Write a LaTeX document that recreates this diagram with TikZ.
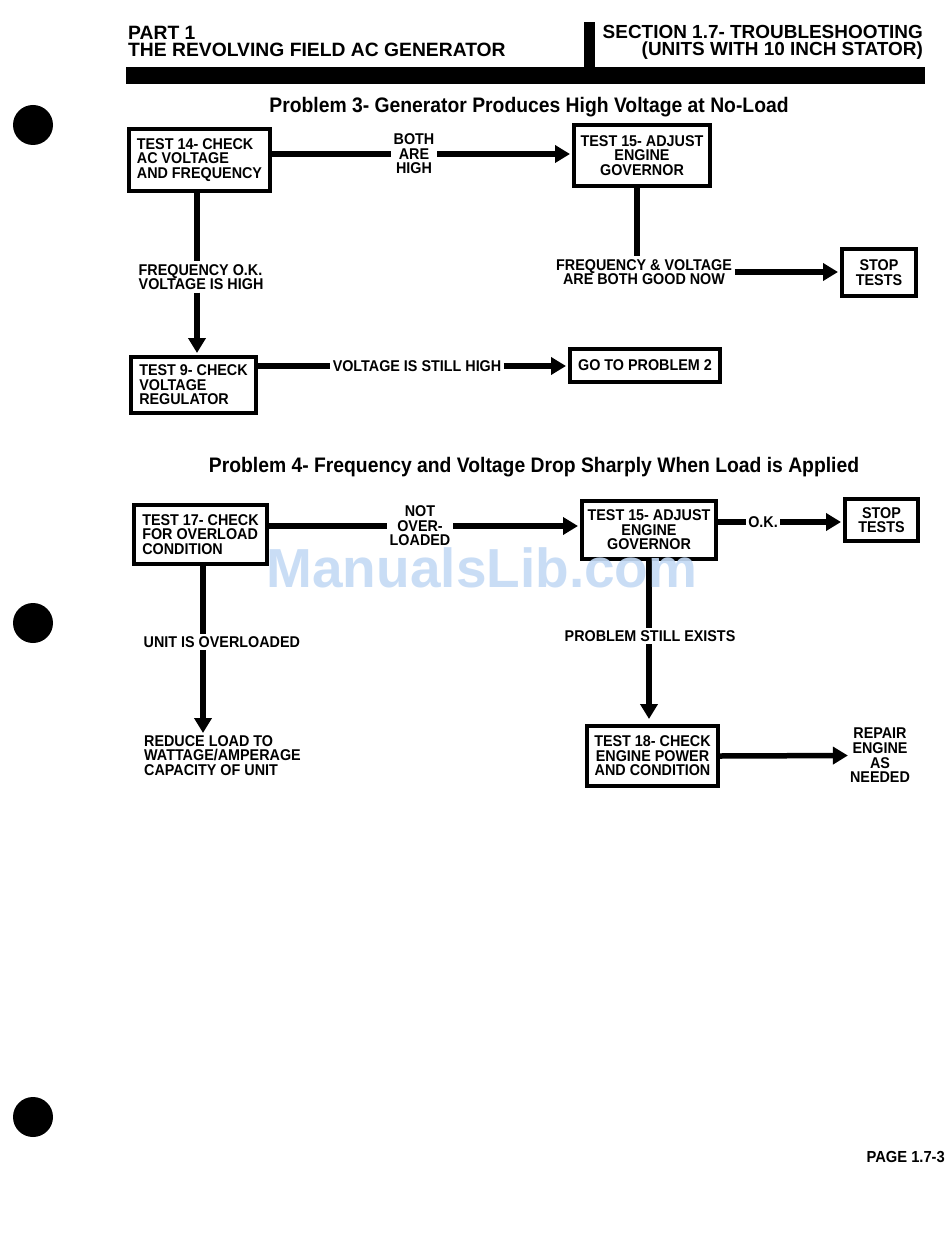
\documentclass[tikz,border=0pt]{standalone}
\usepackage{fontspec}
\setmainfont{Liberation Sans}[FakeStretch=0.92]
\newfontfamily\plainfont{Liberation Sans}
\usetikzlibrary{arrows.meta,calc}
\definecolor{wmblue}{RGB}{196,218,245}
\begin{document}
\begin{tikzpicture}[x=1pt,y=-1pt,
  bodyfont/.style={font=\bfseries\fontsize{15.6}{14.6}\selectfont},
  box/.style={draw, line width=4pt, bodyfont, inner sep=0pt, align=left},
  cbox/.style={box, align=center},
  txt/.style={bodyfont, inner sep=0pt},
  lbl/.style={bodyfont, fill=white, inner sep=2.5pt, align=center},
  hdr/.style={font=\plainfont\bfseries\fontsize{19.3}{20}\selectfont, inner sep=0pt, text height=14pt, text depth=0.5pt},
  hdrr/.style={hdr, font=\plainfont\bfseries\fontsize{18.95}{20}\selectfont},
  ttl/.style={font=\bfseries\fontsize{21}{21}\selectfont, inner sep=0pt},
  conn/.style={line width=5.5pt},
  arr/.style={line width=5.5pt, -{Triangle[length=15pt,width=17pt]}, shorten >=2pt}
]
\fill[white] (0,0) rectangle (950,1238);
\useasboundingbox (0,0) rectangle (950,1238);

% binder holes
\fill (33,125) circle[radius=20pt];
\fill (33,623) circle[radius=20pt];
\fill (33,1117) circle[radius=20pt];

% header
\node[hdr, anchor=base west] (h1) at (128,39.5) {PART 1};
\node[hdr, anchor=base west] (h2) at (128,56.5) {THE REVOLVING FIELD AC GENERATOR};
\node[hdrr, anchor=base east] (h3) at (923,38.5) {SECTION 1.7- TROUBLESHOOTING};
\node[hdrr, anchor=base east] (h4) at (923,55.5) {(UNITS WITH 10 INCH STATOR)};
\fill (584,22) rectangle (595,72);
\fill (126,67) rectangle (925,84);

% Problem 3
\node[ttl] (p3) at (529,107) {Problem 3- Generator Produces High Voltage at No-Load};

\node[box, minimum width=141pt, minimum height=62pt] (t14) at (199.5,160) {TEST 14- CHECK\\AC VOLTAGE\\AND FREQUENCY};
\node[cbox, minimum width=136pt, minimum height=61pt] (t15) at (642,155.5) {TEST 15- ADJUST\\ENGINE\\GOVERNOR};
\node[cbox, minimum width=74pt, minimum height=47pt] (s1) at (879,272.5) {STOP\\TESTS};
\node[box, minimum width=125pt, minimum height=56pt] (t9) at (193.5,385) {TEST 9- CHECK\\VOLTAGE\\REGULATOR};
\node[cbox, minimum width=150pt, minimum height=33pt] (g2) at (645,365.5) {GO TO PROBLEM 2};

\node[lbl] (both) at (414,154) {BOTH\\ARE\\HIGH};
\node[lbl, align=left, anchor=west] (fok) at (136,277) {FREQUENCY O.K.\\VOLTAGE IS HIGH};
\node[lbl] (fv) at (644,272) {FREQUENCY \& VOLTAGE\\ARE BOTH GOOD NOW};
\node[lbl] (still) at (417,366) {VOLTAGE IS STILL HIGH};

\coordinate (a14) at ($(t14.south)+(-2.5,0)$);
\coordinate (a15) at ($(t15.south)+(-5,0)$);

\draw[conn] (t14.east |- both) -- (both.west);
\draw[arr] (both.east) -- (both.east -| t15.west);
\draw[conn] (a14) -- (a14 |- fok.north);
\draw[arr] (a14 |- fok.south) -- (a14 |- t9.north);
\draw[conn] (a15) -- (a15 |- fv.north);
\draw[arr] (fv.east) -- (fv.east -| s1.west);
\draw[conn] (t9.east |- still) -- (still.west);
\draw[arr] (still.east) -- (still.east -| g2.west);

% Problem 4
\node[ttl] (p4) at (534,467) {Problem 4- Frequency and Voltage Drop Sharply When Load is Applied};

\node[box, minimum width=133pt, minimum height=59pt] (t17) at (200.5,534.5) {TEST 17- CHECK\\FOR OVERLOAD\\CONDITION};
\node[cbox, minimum width=134pt, minimum height=58pt] (t15b) at (649,530) {TEST 15- ADJUST\\ENGINE\\GOVERNOR};
\node[cbox, minimum width=73pt, minimum height=42pt] (s2) at (881.5,520) {STOP\\TESTS};
\node[cbox, minimum width=131pt, minimum height=60pt] (t18) at (652.5,756) {TEST 18- CHECK\\ENGINE POWER\\AND CONDITION};
\node[txt, align=center] (rep) at (880,755.5) {REPAIR\\ENGINE\\AS\\NEEDED};
\node[txt, align=left, anchor=north west] (red) at (144,735) {REDUCE LOAD TO\\WATTAGE/AMPERAGE\\CAPACITY OF UNIT};

\node[lbl] (nol) at (420,526) {NOT\\OVER-\\LOADED};
\node[lbl] (ok) at (763,522) {O.K.};
\node[lbl, anchor=west] (uio) at (141,642) {UNIT IS OVERLOADED};
\node[lbl] (pse) at (650,636) {PROBLEM STILL EXISTS};

\coordinate (a17) at ($(t17.south)+(2.5,0)$);

\draw[conn] (t17.east |- nol) -- (nol.west);
\draw[arr] (nol.east) -- (nol.east -| t15b.west);
\draw[conn] (t15b.east |- ok) -- (ok.west);
\draw[arr] (ok.east) -- (ok.east -| s2.west);
\draw[conn] (a17) -- (a17 |- uio.north);
\draw[arr] (a17 |- uio.south) -- (a17 |- red.north);
\draw[conn] (t15b.south) -- (t15b.south |- pse.north);
\draw[arr, shorten >=5pt] (t15b.south |- pse.south) -- (t15b.south |- t18.north);
\draw[arr] (t18.east) -- (rep.west);

% page number
\node[font=\bfseries\fontsize{16}{16}\selectfont, inner sep=0pt, anchor=base east] (pg) at (945,1162) {PAGE 1.7-3};

% watermark
\node[font=\plainfont\bfseries\fontsize{55}{55}\selectfont, text=wmblue, inner sep=0pt, opacity=0.9] (wm) at (482,568) {ManualsLib.com};
\end{tikzpicture}
\end{document}
